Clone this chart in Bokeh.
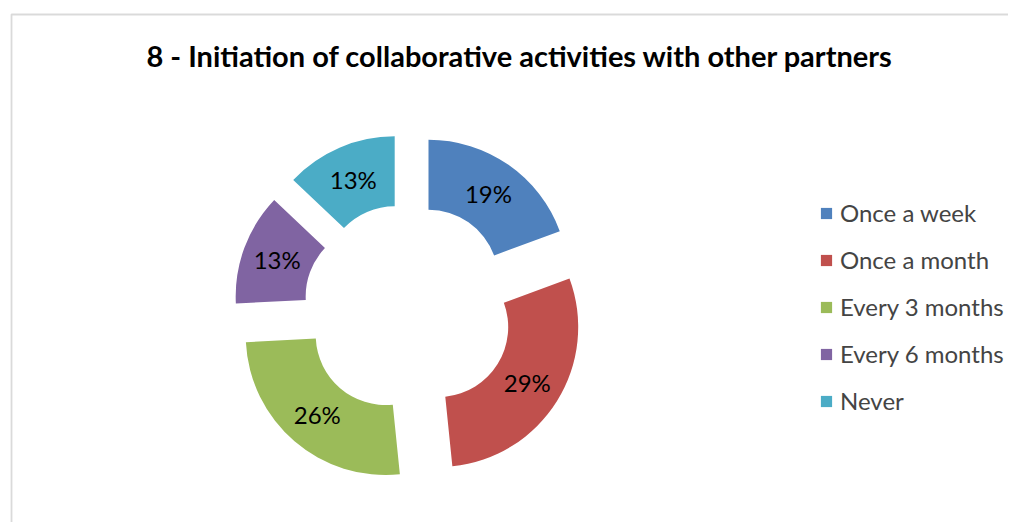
import math
from bokeh.plotting import figure
from bokeh.models import ColumnDataSource, Range1d, Legend, LegendItem, Label, BoxAnnotation
from bokeh.core.properties import value
from bokeh.embed import file_html
from bokeh.resources import INLINE

# ---- data ----
title_text = "8 - Initiation of collaborative activities with other partners"
categories = ["Once a week", "Once a month", "Every 3 months", "Every 6 months", "Never"]
counts = [6, 9, 8, 4, 4]
colors = ["#4F81BD", "#C0504D", "#9BBB59", "#8064A2", "#4BACC6"]

# ---- layout (pixels; data units == pixels, y measured upward from y=530) ----
W, H = 1008, 522
CX, CY = 408, 530 - 308
R_IN, R_OUT, EXPLODE = 70, 140, 35
FONT = "Lato"

total = sum(counts)
xs, ys, starts, ends, lx, ly, labels = [], [], [], [], [], [], []
cum = 0
for c in counts:
    a0 = cum / total
    a1 = (cum + c) / total
    cum += c
    mid = 2 * math.pi * (a0 + a1) / 2  # clockwise from top
    ox = CX + EXPLODE * math.sin(mid)
    oy = CY + EXPLODE * math.cos(mid)
    xs.append(ox)
    ys.append(oy)
    starts.append(math.pi / 2 - 2 * math.pi * a0)
    ends.append(math.pi / 2 - 2 * math.pi * a1)
    rm = (R_IN + R_OUT) / 2
    lx.append(ox + rm * math.sin(mid))
    ly.append(oy + rm * math.cos(mid))
    labels.append(f"{round(100 * c / total)}%")

src = ColumnDataSource(dict(x=xs, y=ys, start=starts, end=ends, color=colors,
                            category=categories, lx=lx, ly=ly, label=labels))

p = figure(width=W, height=H, output_backend="svg", toolbar_location=None,
           x_range=Range1d(0, W), y_range=Range1d(530 - H, 530),
           x_axis_location=None, y_axis_location=None,
           min_border=0, outline_line_color=None)
p.grid.visible = False

# chart area border (only left and top edges are visible in the window)
p.add_layout(BoxAnnotation(left=11, top=530 - 14, right=2000, bottom=-1000,
                           fill_alpha=0, line_color="#868686", line_width=1.8))

r = p.annular_wedge(x="x", y="y", inner_radius=R_IN, outer_radius=R_OUT,
                    inner_radius_units="screen", outer_radius_units="screen",
                    start_angle="start", end_angle="end", direction="clock",
                    fill_color="color", line_color=None, source=src)

p.text(x="lx", y="ly", text="label", source=src, text_align="center",
       text_baseline="middle", text_font=value(FONT), text_font_size="24px",
       text_color="black")

title = Label(x=519.5, y=530 - 55, text=title_text, text_align="center",
              text_baseline="middle", text_font=FONT, text_font_style="bold",
              text_font_size="29px", text_color="black")
p.add_layout(title)

items = [LegendItem(label=cat, renderers=[r], index=i) for i, cat in enumerate(categories)]
legend = Legend(items=items, location=(819, 107), orientation="vertical",
                glyph_width=14, glyph_height=14, label_standoff=7,
                label_text_font=FONT, label_text_font_size="24px",
                label_height=20, spacing=18, padding=0, margin=0,
                border_line_alpha=0, background_fill_alpha=0)
p.add_layout(legend, "center")

open("out.html", "w").write(file_html(p, INLINE))
